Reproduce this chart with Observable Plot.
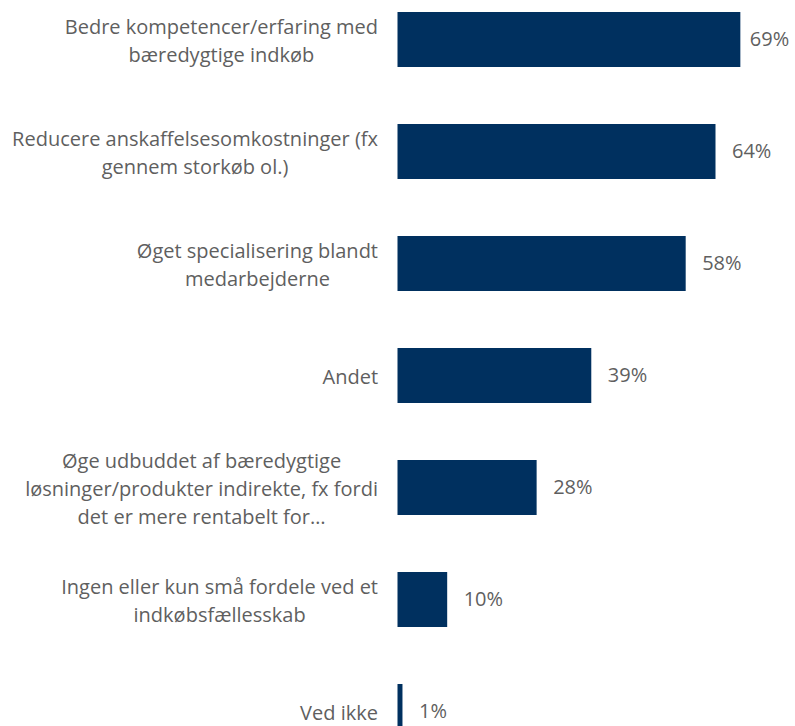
<!DOCTYPE html>
<html><head><meta charset="utf-8">
<script src="https://cdn.jsdelivr.net/npm/d3@7"></script>
<script src="https://cdn.jsdelivr.net/npm/@observablehq/plot@0.6"></script>
<style>html,body{margin:0;padding:0;background:#fff;overflow:hidden}#chart svg{display:block}</style>
</head><body><div id="chart"></div>
<script>
const categories = [
  "Bedre kompetencer/erfaring med\nbæredygtige indkøb",
  "Reducere anskaffelsesomkostninger (fx\ngennem storkøb ol.)",
  "Øget specialisering blandt\nmedarbejderne",
  "Andet",
  "Øge udbuddet af bæredygtige\nløsninger/produkter indirekte, fx fordi\ndet er mere rentabelt for…",
  "Ingen eller kun små fordele ved et\nindkøbsfællesskab",
  "Ved ikke"
];
const values = [69, 64, 58, 39, 28, 10, 1];
const valueLabels = ["69%", "64%", "58%", "39%", "28%", "10%", "1%"];

const data = categories.map((c, i) => ({cat: c, value: values[i], label: valueLabels[i]}));
const maxV = d3.max(values);

const FONT = "Open Sans";
const FS = 20;
const TEXT = "#5f5f5f";
const BAR = "#00305F";

const ctx = document.createElement("canvas").getContext("2d");
ctx.font = `${FS}px "${FONT}"`;

const labelMarks = categories.map(c => {
  const w = d3.max(c.split("\n"), l => ctx.measureText(l).width);
  return Plot.text([c], {
    y: d => d, text: d => d, frameAnchor: "left",
    textAnchor: "middle", lineAnchor: "middle",
    dx: -(20 + w / 2), dy: -1, fontSize: FS, fill: TEXT, lineHeight: 1.4
  });
});

const chart = Plot.plot({
  width: 795,
  height: 726,
  marginLeft: 397.5,
  marginRight: 0,
  marginTop: 0,
  marginBottom: 0,
  style: {fontFamily: FONT, background: "#fff"},
  x: {domain: [0, 80], axis: null},
  y: {domain: categories, range: [-16.5, 767.5], paddingInner: 0.509, paddingOuter: 0.2545, axis: null},
  marks: [
    Plot.barX(data, {x: "value", y: "cat", fill: BAR}),
    Plot.text(data, {filter: d => d.value === maxV, x: "value", y: "cat", text: "label", textAnchor: "start", dx: 9, dy: 0, fontSize: FS, fill: TEXT}),
    Plot.text(data, {filter: d => d.value !== maxV, x: "value", y: "cat", text: "label", textAnchor: "start", dx: 16, dy: 0, fontSize: FS, fill: TEXT}),
    ...labelMarks
  ]
});
document.getElementById("chart").append(chart);
</script>
</body></html>
